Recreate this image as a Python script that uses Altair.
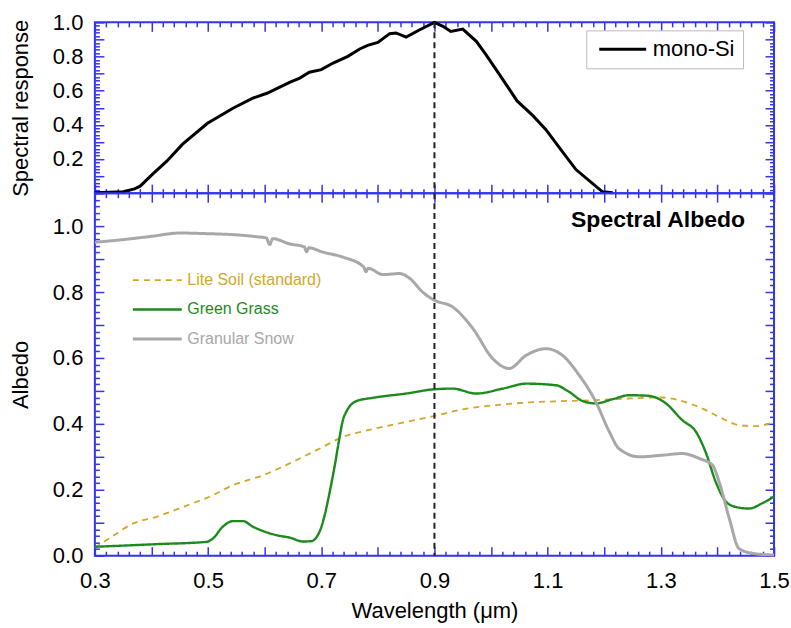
import altair as alt
import pandas as pd

# ---------------- data ----------------
si_wl = [0.300, 0.350, 0.370, 0.380, 0.402, 0.427, 0.455, 0.499, 0.544, 0.579,
         0.604, 0.644, 0.662, 0.679, 0.700, 0.721, 0.747, 0.768, 0.782, 0.800,
         0.821, 0.832, 0.850, 0.874, 0.900, 0.915, 0.929, 0.950, 0.974, 0.991,
         1.015, 1.046, 1.074, 1.097, 1.121, 1.150, 1.197, 1.215]
si_resp = [0.003, 0.008, 0.025, 0.041, 0.111, 0.187, 0.287, 0.409, 0.497, 0.556,
           0.585, 0.649, 0.674, 0.708, 0.723, 0.762, 0.801, 0.844, 0.865, 0.883,
           0.934, 0.938, 0.914, 0.957, 1.000, 0.977, 0.947, 0.961, 0.889, 0.811,
           0.694, 0.540, 0.454, 0.372, 0.265, 0.138, 0.008, 0.002]

soil_wl = [0.300, 0.326, 0.368, 0.409, 0.456, 0.509, 0.544, 0.597, 0.668, 0.703,
           0.732, 0.791, 0.850, 0.900, 0.950, 1.009, 1.068, 1.126, 1.185, 1.244,
           1.303, 1.338, 1.374, 1.409, 1.438, 1.468, 1.500]
soil_alb = [0.024, 0.053, 0.098, 0.118, 0.148, 0.184, 0.214, 0.244, 0.300, 0.330,
            0.356, 0.384, 0.406, 0.424, 0.444, 0.457, 0.465, 0.469, 0.472, 0.477,
            0.480, 0.469, 0.446, 0.416, 0.396, 0.393, 0.406]

grass_wl = [0.300, 0.409, 0.497, 0.509, 0.526, 0.544, 0.562, 0.579, 0.597, 0.621,
            0.644, 0.668, 0.682, 0.697, 0.706, 0.715, 0.724, 0.732, 0.739, 0.744,
            0.762, 0.791, 0.850, 0.900, 0.932, 0.974, 1.021, 1.062, 1.115, 1.138,
            1.162, 1.185, 1.215, 1.244, 1.279, 1.309, 1.338, 1.362, 1.379, 1.397,
            1.415, 1.432, 1.456, 1.479, 1.500]
grass_alb = [0.027, 0.035, 0.042, 0.053, 0.088, 0.105, 0.105, 0.088, 0.075, 0.062,
             0.055, 0.043, 0.044, 0.073, 0.123, 0.194, 0.275, 0.356, 0.416, 0.436,
             0.469, 0.479, 0.492, 0.505, 0.507, 0.492, 0.507, 0.522, 0.517, 0.497,
             0.469, 0.462, 0.475, 0.487, 0.485, 0.462, 0.411, 0.376, 0.315, 0.224,
             0.164, 0.148, 0.143, 0.159, 0.179]

snow_wl = [0.300, 0.350, 0.400, 0.450, 0.500, 0.545, 0.585, 0.603, 0.609, 0.614,
           0.644, 0.670, 0.674, 0.678, 0.703, 0.738, 0.775, 0.779, 0.783, 0.809,
           0.838, 0.856, 0.879, 0.900, 0.932, 0.968, 1.003, 1.032, 1.062, 1.097,
           1.126, 1.156, 1.185, 1.209, 1.226, 1.262, 1.303, 1.338, 1.368, 1.391,
           1.403, 1.421, 1.438, 1.462, 1.500]
snow_alb = [0.951, 0.959, 0.969, 0.979, 0.977, 0.974, 0.968, 0.964, 0.944, 0.962,
            0.946, 0.937, 0.922, 0.934, 0.921, 0.906, 0.876, 0.862, 0.872, 0.853,
            0.856, 0.842, 0.800, 0.775, 0.755, 0.689, 0.598, 0.568, 0.608, 0.628,
            0.608, 0.547, 0.467, 0.376, 0.325, 0.300, 0.305, 0.310, 0.295, 0.275,
            0.224, 0.113, 0.022, 0.007, 0.002]

si_name = ["mono-Si"]
series_names = ["Lite Soil (standard)", "Green Grass", "Granular Snow"]
series_colors = ["#d1a72c", "#1c8a1c", "#a8a8a8"]
series_dash = [[6, 5], [1, 0], [1, 0]]
series_width = [1.8, 3, 3]
marker_wl = [0.9]

x_domain = [0.3, 1.5]
x_label_ticks = [0.3, 0.5, 0.7, 0.9, 1.1, 1.3, 1.5]
x_major_ticks = [round(0.3 + 0.1 * i, 2) for i in range(13)]
x_minor_ticks = [round(0.3 + 0.02 * i, 2) for i in range(61) if i % 5]

top_y_domain = [0.0, 1.0]
top_y_labels = [0.2, 0.4, 0.6, 0.8, 1.0]
top_y_major = [round(0.1 * i, 1) for i in range(11)]
top_y_minor = [round(0.02 * i, 2) for i in range(51) if i % 5]

bot_y_domain = [0.0, 1.1]
bot_y_labels = [0.0, 0.2, 0.4, 0.6, 0.8, 1.0]
bot_y_major = [round(0.1 * i, 1) for i in range(12)]
bot_y_minor = [round(0.02 * i, 2) for i in range(56) if i % 5]

# ---------------- tables ----------------
df_si = pd.DataFrame({"wl": si_wl, "val": si_resp, "name": si_name * len(si_wl)})
df_alb = pd.concat([
    pd.DataFrame({"wl": soil_wl, "val": soil_alb, "name": series_names[0]}),
    pd.DataFrame({"wl": grass_wl, "val": grass_alb, "name": series_names[1]}),
    pd.DataFrame({"wl": snow_wl, "val": snow_alb, "name": series_names[2]}),
], ignore_index=True)
df_marker = pd.DataFrame({"wl": marker_wl})

# ---------------- style ----------------
W = 680
H_TOP = 171
H_BOT = 363
BLUE = "#3434ee"
FONT = "Liberation Sans"
MAJ = 9
MIN = 4.5
LABEL_FS = 22


def tick_axis(values, orient, offset, size):
    return alt.Axis(orient=orient, offset=offset, values=values, tickSize=size,
                    tickColor=BLUE, tickWidth=1.5, labels=False, domain=False,
                    grid=False, title=None)


def x_label_axis():
    return alt.Axis(orient="bottom", values=x_label_ticks, ticks=False, domain=False,
                    grid=False, labelFontSize=LABEL_FS, labelPadding=15, format=".1f",
                    labelFlush=False, labelColor="black",
                    title="Wavelength (μm)", titleFontSize=22, titleFontWeight="normal",
                    titlePadding=9, titleColor="black")


def y_label_axis(values, title):
    return alt.Axis(orient="left", values=values, ticks=False, domain=False, grid=False,
                    labelFontSize=LABEL_FS, labelPadding=12, format=".1f", labelColor="black",
                    title=title, titleFontSize=22, titleFontWeight="normal",
                    titlePadding=20, titleColor="black")


def xs(axis):
    return alt.X("wl:Q", scale=alt.Scale(domain=x_domain, nice=False, zero=False), axis=axis)


def ys(domain, axis):
    return alt.Y("val:Q", scale=alt.Scale(domain=domain, nice=False, zero=False), axis=axis)


def ghost(df, xaxis, yaxis, domain):
    return alt.Chart(df).mark_point(opacity=0, size=1).encode(
        x=xs(xaxis), y=ys(domain, yaxis))


def rule_layer():
    return alt.Chart(df_marker).mark_rule(color="#222222", strokeWidth=2, strokeDash=[6, 4]).encode(
        x=alt.X("wl:Q", scale=alt.Scale(domain=x_domain, nice=False, zero=False), axis=None))


# ---------------- top panel ----------------
top_line = alt.Chart(df_si).mark_line(strokeWidth=3, interpolate="linear").encode(
    x=xs(tick_axis(x_major_ticks, "top", -H_TOP, MAJ)),
    y=ys(top_y_domain, y_label_axis(top_y_labels, "Spectral response")),
    color=alt.Color("name:N", scale=alt.Scale(domain=si_name, range=["black"]),
                    legend=alt.Legend(orient="none", legendX=492, legendY=8, title=None,
                                      strokeColor="#bbbbbb", fillColor="white", padding=8,
                                      labelFontSize=22, labelColor="black",
                                      symbolType="M-4.7,0L4.7,0", symbolSize=100,
                                      symbolStrokeWidth=3, symbolOffset=17.5,
                                      labelOffset=19)),
)

top = alt.layer(
    top_line,
    rule_layer(),
    ghost(df_si, tick_axis(x_minor_ticks, "top", -H_TOP, MIN), tick_axis(top_y_major, "right", -W, MAJ), top_y_domain),
    ghost(df_si, tick_axis(x_major_ticks, "bottom", -H_TOP, MAJ), tick_axis(top_y_minor, "right", -W, MIN), top_y_domain),
    ghost(df_si, tick_axis(x_minor_ticks, "bottom", -H_TOP, MIN), tick_axis(top_y_major, "left", -W, MAJ), top_y_domain),
    ghost(df_si, None, tick_axis(top_y_minor, "left", -W, MIN), top_y_domain),
).resolve_axis(x="independent", y="independent").properties(width=W, height=H_TOP)

# ---------------- bottom panel ----------------
label_color_expr = ("datum.value == '%s' ? '%s' : datum.value == '%s' ? '%s' : '%s'"
                    % (series_names[1], series_colors[1], series_names[2], series_colors[2],
                       series_colors[0]))

bot_legend = alt.Legend(orient="none", legendX=38, legendY=79, title=None, padding=0,
                        labelFontSize=16, labelColor=alt.ExprRef(label_color_expr),
                        symbolType="M-4.9,0L4.9,0", symbolSize=100, symbolStrokeWidth=3,
                        symbolOffset=16.5, labelOffset=22, rowPadding=13.5)

bot_line = alt.Chart(df_alb).mark_line(interpolate="monotone").encode(
    x=xs(x_label_axis()),
    y=ys(bot_y_domain, y_label_axis(bot_y_labels, "Albedo")),
    color=alt.Color("name:N", scale=alt.Scale(domain=series_names, range=series_colors),
                    legend=bot_legend),
    strokeDash=alt.StrokeDash("name:N", scale=alt.Scale(domain=series_names, range=series_dash),
                              legend=bot_legend),
    strokeWidth=alt.StrokeWidth("name:N", scale=alt.Scale(domain=series_names, range=series_width),
                                legend=None),
)

bottom = alt.layer(
    bot_line,
    rule_layer(),
    ghost(df_alb, tick_axis(x_major_ticks, "top", -H_BOT, MAJ), tick_axis(bot_y_major, "right", -W, MAJ), bot_y_domain),
    ghost(df_alb, tick_axis(x_minor_ticks, "top", -H_BOT, MIN), tick_axis(bot_y_minor, "right", -W, MIN), bot_y_domain),
    ghost(df_alb, tick_axis(x_major_ticks, "bottom", -H_BOT, MAJ), tick_axis(bot_y_major, "left", -W, MAJ), bot_y_domain),
    ghost(df_alb, tick_axis(x_minor_ticks, "bottom", -H_BOT, MIN), tick_axis(bot_y_minor, "left", -W, MIN), bot_y_domain),
).resolve_axis(x="independent", y="independent").properties(
    width=W, height=H_BOT,
    title=alt.TitleParams("Spectral Albedo", anchor="end", frame="group", orient="top",
                          offset=-40, dx=-29, fontSize=23, fontWeight="bold", color="black"),
)

chart = alt.vconcat(top, bottom, spacing=0, bounds="flush").resolve_scale(
    color="independent", strokeDash="independent", strokeWidth="independent"
).resolve_legend(color="independent", strokeDash="independent").properties(
    padding={"left": 8, "top": 10, "right": 0, "bottom": 0},
    background="white",
).configure(font=FONT).configure_view(stroke=BLUE, strokeWidth=2)

chart.save("out.html", embed_options={"renderer": "svg", "actions": False})
